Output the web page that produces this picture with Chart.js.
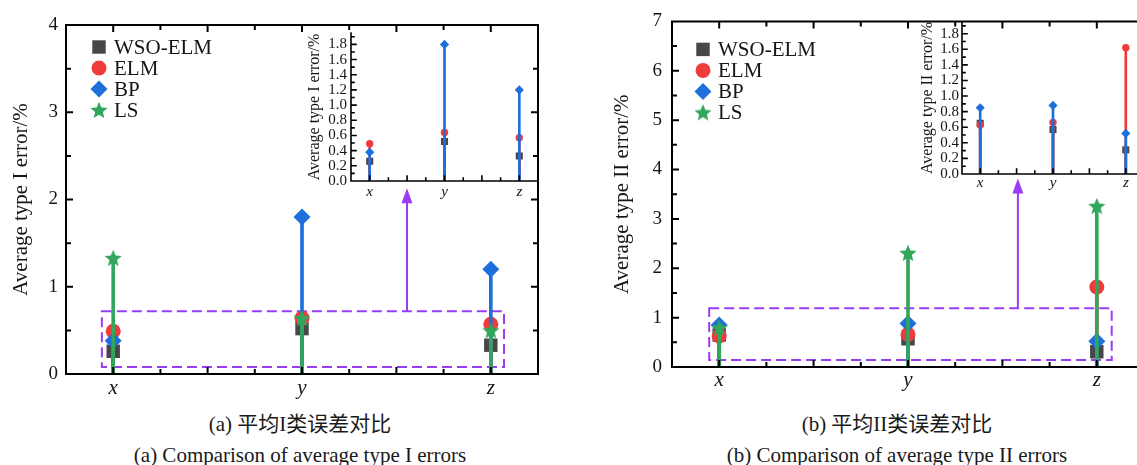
<!DOCTYPE html>
<html>
<head>
<meta charset="utf-8">
<script src="https://cdn.jsdelivr.net/npm/chart.js@4.4.1/dist/chart.umd.min.js"></script>
<style>
html,body{margin:0;padding:0;background:#fff;width:1137px;height:465px;overflow:hidden;position:relative;}
canvas{position:absolute;}
.cap{position:absolute;font-family:"Liberation Serif","Noto Sans CJK SC",serif;font-size:21px;line-height:1;color:#1a1a1a;white-space:nowrap;transform:translate(-50%,-50%);}
</style>
</head>
<body>
<canvas id="mainA" width="560" height="400" style="left:0;top:0"></canvas>
<canvas id="insetA" width="260" height="200" style="left:290px;top:20px"></canvas>
<canvas id="mainB" width="580" height="400" style="left:590px;top:0"></canvas>
<canvas id="insetB" width="260" height="200" style="left:900px;top:10px"></canvas>
<div class="cap" style="left:300px;top:424px">(a) 平均I类误差对比</div>
<div class="cap" style="left:300px;top:455px">(a) Comparison of average type I errors</div>
<div class="cap" style="left:897px;top:424px">(b) 平均II类误差对比</div>
<div class="cap" style="left:897px;top:455px">(b) Comparison of average type II errors</div>
<script>
// ---------------- data ----------------
const categories = ['x', 'y', 'z'];
const categoryPos = [1, 2, 3];
const seriesNames = ['WSO-ELM', 'ELM', 'BP', 'LS'];
// (a) average type I error (%)
const wsoA = [0.26, 0.52, 0.33];
const elmA = [0.49, 0.64, 0.57];
const bpA  = [0.38, 1.80, 1.20];
const lsA  = [1.33, 0.64, 0.50];
// (b) average type II error (%)
const wsoB = [0.65, 0.57, 0.31];
const elmB = [0.63, 0.66, 1.62];
const bpB  = [0.85, 0.88, 0.52];
const lsB  = [0.80, 2.31, 3.26];
// tick labels
const yTicksA = [0, 1, 2, 3, 4];
const yTicksB = [0, 1, 2, 3, 4, 5, 6, 7];
const yTicksInset = [0, 0.2, 0.4, 0.6, 0.8, 1.0, 1.2, 1.4, 1.6, 1.8];
// zoom box [xFrom, xTo, yFrom, yTo] and arrow [x, tipY] in main-axis units
const zoomBoxA = [0.94, 3.07, 0.08, 0.72];
const arrowA = [2.556, 2.13];
const zoomBoxB = [0.947, 3.079, 0.14, 1.19];
const arrowB = [2.582, 3.82];

// ---------------- styling ----------------
const FONT = "'Liberation Serif', 'Times New Roman', serif";
const INK = '#151515';
const COL = { wso: '#474747', elm: '#ef3b3b', bp: '#1d6fdc', ls: '#32a65c', purple: '#9b3cf5' };
Chart.defaults.font.family = FONT;
Chart.defaults.color = INK;

function makeStar(size, color) {
  const c = document.createElement('canvas');
  c.width = size; c.height = size;
  const g = c.getContext('2d');
  const R = size / 2, r = R * 0.45, cx = size / 2, cy = size / 2 + R * 0.08;
  g.beginPath();
  for (let k = 0; k < 10; k++) {
    const ang = -Math.PI / 2 + k * Math.PI / 5;
    const rad = k % 2 ? r : R;
    g.lineTo(cx + rad * Math.cos(ang), cy + rad * Math.sin(ang));
  }
  g.closePath();
  g.fillStyle = color;
  g.fill();
  return c;
}
const starImg = makeStar(18, COL.ls);

function drawMarker(ctx, style, x, y, r, color) {
  ctx.fillStyle = color;
  if (typeof style !== 'string') {
    ctx.drawImage(style, x - style.width / 2, y - style.height / 2);
    return;
  }
  ctx.beginPath();
  if (style === 'circle') {
    ctx.arc(x, y, r, 0, Math.PI * 2);
  } else if (style === 'rect') {
    const s = r * Math.SQRT1_2;
    ctx.rect(x - s, y - s, 2 * s, 2 * s);
  } else if (style === 'rectRot') {
    ctx.moveTo(x - r, y); ctx.lineTo(x, y - r); ctx.lineTo(x + r, y); ctx.lineTo(x, y + r); ctx.closePath();
  }
  ctx.fill();
}

// ---------------- plugins ----------------
const framePlugin = {
  id: 'frame',
  afterDatasetsDraw(chart, args, o) {
    const { ctx, chartArea: a, scales: { x, y } } = chart;
    ctx.save();
    ctx.strokeStyle = '#000';
    ctx.lineWidth = o.lineWidth;
    ctx.lineCap = 'square';
    const each = (scale, minor, major, fn) => {
      const n0 = Math.ceil(scale.min / minor - 1e-9);
      for (let k = n0; k * minor <= scale.max + 1e-9; k++) {
        const v = k * minor;
        if (Math.abs(v - scale.min) < 1e-6 || Math.abs(v - scale.max) < 1e-6) continue;
        const isMajor = Math.abs(v / major - Math.round(v / major)) < 1e-6;
        fn(scale.getPixelForValue(v), isMajor ? o.majorLen : o.minorLen);
      }
    };
    ctx.beginPath();
    const sides = o.sides;
    if (sides.includes('left')) {
      ctx.moveTo(a.left, a.top); ctx.lineTo(a.left, a.bottom);
      each(y, o.yMinor, o.yMajor, (p, l) => { ctx.moveTo(a.left, p); ctx.lineTo(a.left + l, p); });
    }
    if (sides.includes('right')) {
      ctx.moveTo(a.right, a.top); ctx.lineTo(a.right, a.bottom);
      each(y, o.yMinor, o.yMajor, (p, l) => { ctx.moveTo(a.right, p); ctx.lineTo(a.right - l, p); });
    }
    if (sides.includes('bottom')) {
      ctx.moveTo(a.left, a.bottom); ctx.lineTo(a.right, a.bottom);
      each(x, o.xMinor, o.xMajor, (p, l) => { ctx.moveTo(p, a.bottom); ctx.lineTo(p, a.bottom - l); });
    }
    if (sides.includes('top')) {
      ctx.moveTo(a.left, a.top); ctx.lineTo(a.right, a.top);
      each(x, o.xMinor, o.xMajor, (p, l) => { ctx.moveTo(p, a.top); ctx.lineTo(p, a.top + l); });
    }
    ctx.stroke();
    ctx.restore();
  }
};

const zoomPlugin = {
  id: 'zoomBox',
  beforeDatasetsDraw(chart, args, o) {
    const { ctx, scales: { x, y } } = chart;
    const [x0, x1, y0, y1] = o.box;
    const L = x.getPixelForValue(x0), R = x.getPixelForValue(x1);
    const T = y.getPixelForValue(y1), B = y.getPixelForValue(y0);
    ctx.save();
    ctx.strokeStyle = o.color;
    ctx.fillStyle = o.color;
    ctx.lineWidth = 2;
    ctx.setLineDash([10, 5]);
    ctx.strokeRect(L, T, R - L, B - T);
    ctx.setLineDash([]);
    const ax = x.getPixelForValue(o.arrow[0]);
    const tip = y.getPixelForValue(o.arrow[1]);
    ctx.beginPath(); ctx.moveTo(ax, T); ctx.lineTo(ax, tip + 12); ctx.stroke();
    ctx.beginPath(); ctx.moveTo(ax, tip); ctx.lineTo(ax - 5.5, tip + 15); ctx.lineTo(ax + 5.5, tip + 15); ctx.closePath(); ctx.fill();
    ctx.restore();
  }
};

const legendPlugin = {
  id: 'innerLegend',
  afterDraw(chart, args, o) {
    const { ctx, chartArea: a } = chart;
    const items = chart.data.datasets.filter(d => d.type === 'scatter');
    ctx.save();
    items.forEach((d, i) => {
      const cx = a.left + o.x, cy = a.top + o.y + i * o.spacing;
      drawMarker(ctx, d.pointStyle, cx, cy, d.pointRadius, d.pointBackgroundColor);
      ctx.fillStyle = INK;
      ctx.font = o.fontSize + 'px ' + FONT;
      ctx.textBaseline = 'middle';
      ctx.textAlign = 'left';
      ctx.fillText(d.label, cx + o.textGap, cy + 1);
    });
    ctx.restore();
  }
};

// ---------------- builders ----------------
function seriesDatasets(list, stem) {
  const out = [];
  const n = list.length;
  list.forEach((s, i) => {
    const pts = categoryPos.map((x, j) => ({ x: x, y: s.values[j] }));
    out.push({ type: 'bar', label: s.name + ' stem', data: pts, backgroundColor: s.color,
      borderWidth: 0, barThickness: stem, grouped: false, order: 2 * (n - i) });
    out.push({ type: 'scatter', label: s.name, data: pts, pointStyle: s.style, pointRadius: s.radius,
      pointHoverRadius: s.radius, pointBackgroundColor: s.color, pointBorderColor: s.color,
      pointBorderWidth: 0, showLine: false, order: 2 * (n - i) - 1 });
  });
  return out;
}

function xScale(size, pad, h) {
  return {
    type: 'linear', min: 0.75, max: 3.25, offset: false,
    grid: { display: false, drawTicks: false }, border: { display: false },
    afterBuildTicks: s => { s.ticks = categoryPos.map(v => ({ value: v })); },
    afterFit: s => { s.height = h; },
    ticks: { autoSkip: false, maxRotation: 0, padding: pad, color: INK,
      font: { family: FONT, size: size, style: 'italic' },
      callback: (v, i) => categories[i] }
  };
}

function yScale(max, tickArr, fmt, size, pad, w, title, tSize, tPad) {
  return {
    type: 'linear', min: 0, max: max,
    grid: { display: false, drawTicks: false }, border: { display: false },
    afterBuildTicks: s => { s.ticks = tickArr.map(v => ({ value: v })); },
    afterFit: s => { s.width = w; },
    ticks: { autoSkip: false, padding: pad, color: INK, font: { family: FONT, size: size },
      callback: v => fmt(v) },
    title: { display: true, text: title, color: INK, font: { family: FONT, size: tSize },
      padding: { top: tPad, bottom: 0 } }
  };
}

function mainChart(id, vals, yMax, yTicks, title, o) {
  const list = [
    { name: seriesNames[0], values: vals[0], color: COL.wso, style: 'rect', radius: 9.5 },
    { name: seriesNames[1], values: vals[1], color: COL.elm, style: 'circle', radius: 7.5 },
    { name: seriesNames[2], values: vals[2], color: COL.bp, style: 'rectRot', radius: 8.5 },
    { name: seriesNames[3], values: vals[3], color: COL.ls, style: starImg, radius: 9 }
  ];
  return new Chart(document.getElementById(id), {
    type: 'bar',
    data: { datasets: seriesDatasets(list, 3) },
    options: {
      responsive: false, animation: false, events: [],
      layout: { padding: { top: o.top, right: o.right, left: 0, bottom: 0 } },
      scales: {
        x: xScale(21, o.xPad, o.xH),
        y: yScale(yMax, yTicks, v => String(v), 19, o.yPad, o.yW, title, 21, o.tPad)
      },
      plugins: {
        legend: { display: false }, tooltip: { enabled: false },
        frame: { sides: ['left', 'right', 'top', 'bottom'], lineWidth: 2, yMajor: 1, yMinor: 0.5,
          xMajor: 0.5, xMinor: 0.25, majorLen: 6, minorLen: 4 },
        zoomBox: { box: o.box, arrow: o.arrow, color: COL.purple },
        innerLegend: { x: o.legX, y: o.legY, spacing: 21, fontSize: 21, textGap: 15 }
      }
    },
    plugins: [zoomPlugin, framePlugin, legendPlugin]
  });
}

function insetChart(id, vals, title, o) {
  const list = [
    { name: seriesNames[0], values: vals[0], color: COL.wso, style: 'rect', radius: 5 },
    { name: seriesNames[1], values: vals[1], color: COL.elm, style: 'circle', radius: 3.7 },
    { name: seriesNames[2], values: vals[2], color: COL.bp, style: 'rectRot', radius: 4.6 }
  ];
  return new Chart(document.getElementById(id), {
    type: 'bar',
    data: { datasets: seriesDatasets(list, 2) },
    options: {
      responsive: false, animation: false, events: [],
      layout: { padding: { top: o.top, right: o.right, left: 0, bottom: 0 } },
      scales: {
        x: xScale(15, o.xPad, o.xH),
        y: yScale(1.95, yTicksInset, v => v.toFixed(1), 15, o.yPad, o.yW, title, 16, o.tPad)
      },
      plugins: {
        legend: { display: false }, tooltip: { enabled: false },
        frame: { sides: ['left', 'bottom'], lineWidth: 1.6, yMajor: 0.2, yMinor: 0.1,
          xMajor: 0.5, xMinor: 0.25, majorLen: 5, minorLen: 3 }
      }
    },
    plugins: [framePlugin]
  });
}

mainChart('mainA', [wsoA, elmA, bpA, lsA], 4, yTicksA, 'Average type I error/%',
  { top: 25, right: 22, xH: 26, xPad: 2, yW: 66, yPad: 8, tPad: 8.4,
    box: zoomBoxA, arrow: arrowA, legX: 33, legY: 22 });
mainChart('mainB', [wsoB, elmB, bpB, lsB], 7, yTicksB, 'Average type II error/%',
  { top: 19, right: 26, xH: 33, xPad: 1, yW: 82, yPad: 10, tPad: 19.4,
    box: zoomBoxB, arrow: arrowB, legX: 31, legY: 28 });
insetChart('insetA', [wsoA, elmA, bpA], 'Average type I error/%',
  { top: 5, right: 12, xH: 39, xPad: 2, yW: 61, yPad: 4, tPad: 15.4 });
insetChart('insetB', [wsoB, elmB, bpB], 'Average type II error/%',
  { top: 9, right: 16, xH: 36, xPad: 0, yW: 62, yPad: 3, tPad: 18.4 });
</script>
</body>
</html>
